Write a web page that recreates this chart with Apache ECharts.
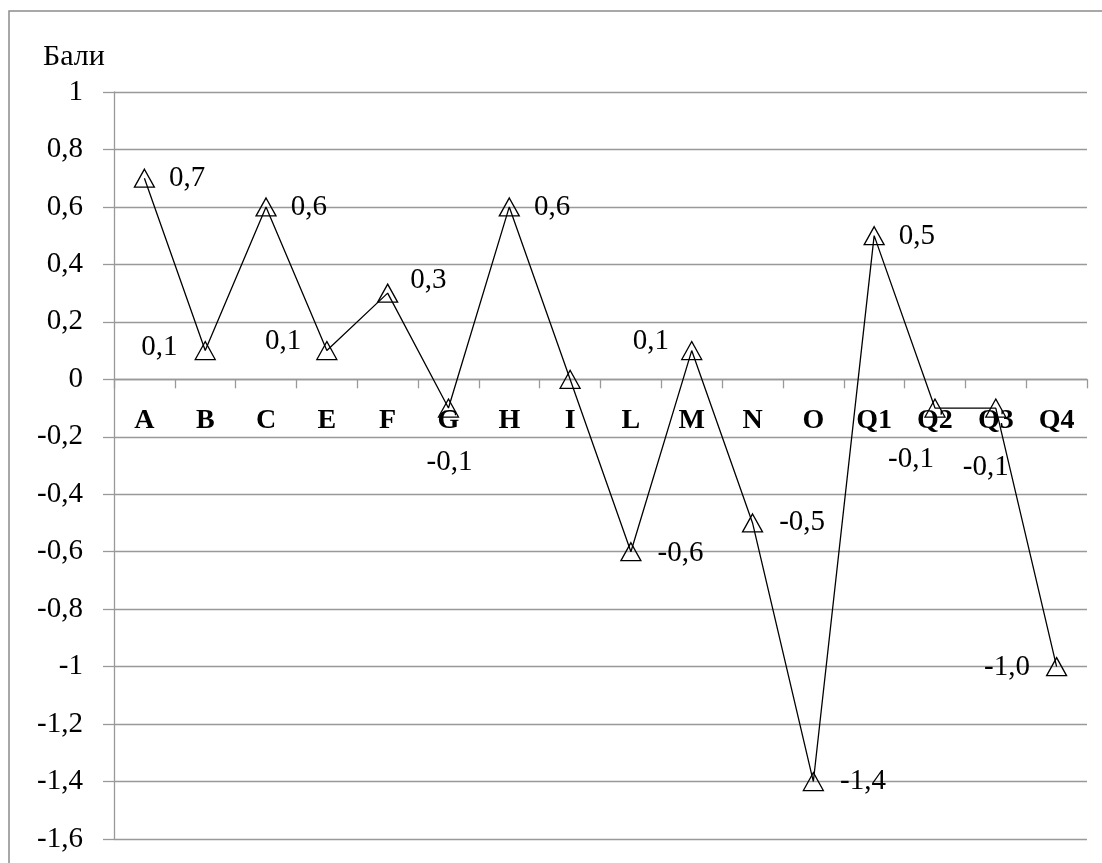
<!DOCTYPE html>
<html>
<head>
<meta charset="utf-8">
<script src="https://cdn.jsdelivr.net/npm/echarts@6/dist/echarts.min.js"></script>
<style>
  html, body { margin: 0; padding: 0; background: #fff; }
  #chart { width: 1102px; height: 863px; }
</style>
</head>
<body>
<div id="chart"></div>
<script>
// дані
const categories = ['A', 'B', 'C', 'E', 'F', 'G', 'H', 'I', 'L', 'M', 'N', 'O', 'Q1', 'Q2', 'Q3', 'Q4'];
const scores = [0.7, 0.1, 0.6, 0.1, 0.3, -0.1, 0.6, 0.0, -0.6, 0.1, -0.5, -1.4, 0.5, -0.1, -0.1, -1.0];
const yTicks = [-1.6, -1.4, -1.2, -1, -0.8, -0.6, -0.4, -0.2, 0, 0.2, 0.4, 0.6, 0.8, 1];
const yName = 'Бали';

// розміщення підписів (position, distance, offset) - null = без підпису
const labelPlace = [
  ['right', 14, [0, 0]],
  ['left', 17, [0, -3]],
  ['right', 14, [0, 0]],
  ['left', 15, [0, -9]],
  ['right', 12, [0, -13]],
  ['bottom', 30, [1, 0]],
  ['right', 14, [0, 0]],
  null,
  ['right', 16, [0, 2]],
  ['left', 12, [0, -9]],
  ['right', 16, [0, -1]],
  ['right', 16, [0, 0]],
  ['right', 14, [0, 1]],
  ['bottom', 27, [-24, 0]],
  ['bottom', 35, [-10, 0]],
  ['left', 16, [0, 1]]
];

const font = 'Liberation Serif, Times New Roman, serif';
const fmt = v => v.toFixed(1).replace('.', ',');

const seriesData = scores.map((v, i) => {
  const p = labelPlace[i];
  if (!p) return { value: v, label: { show: false } };
  return {
    value: v,
    label: { show: true, position: p[0], distance: p[1], offset: p[2] }
  };
});

const chart = echarts.init(document.getElementById('chart'));
chart.setOption({
  animation: false,
  backgroundColor: '#fff',
  title: {
    text: yName,
    left: 38,
    top: 37,
    textStyle: { fontFamily: font, fontSize: 30, fontWeight: 'normal', color: '#000' }
  },
  graphic: [{
    type: 'rect',
    shape: { x: 9, y: 11, width: 1200, height: 1000 },
    style: { fill: 'none', stroke: '#8c8c8c', lineWidth: 1.5 },
    silent: true
  }],
  grid: { left: 114, right: 15, top: 92, bottom: 24, outerBoundsMode: 'none', containLabel: false },
  xAxis: {
    type: 'category',
    data: categories,
    boundaryGap: true,
    position: 'bottom',
    offset: 0,
    axisLine: { onZero: false, lineStyle: { color: '#999', width: 1.3 } },
    axisTick: { show: true, length: 9, lineStyle: { color: '#999', width: 1.3 } },
    axisLabel: {
      interval: 0,
      margin: 27,
      fontFamily: font,
      fontSize: 28,
      fontWeight: 'bold',
      color: '#000'
    },
    splitLine: { show: false }
  },
  yAxis: {
    type: 'value',
    min: yTicks[0],
    max: yTicks[yTicks.length - 1],
    interval: 0.2,
    axisLine: { show: true, lineStyle: { color: '#999', width: 1.3 } },
    axisTick: { show: true, length: 11, lineStyle: { color: '#999', width: 1.3 } },
    axisLabel: {
      margin: 31,
      fontFamily: font,
      fontSize: 29,
      color: '#000',
      formatter: v => {
        const r = Math.round(v * 10) / 10;
        return String(r).replace('.', ',');
      }
    },
    splitLine: { show: true, lineStyle: { color: '#999', width: 1.3 } }
  },
  series: [{
    type: 'line',
    data: seriesData,
    symbol: 'triangle',
    symbolSize: [20, 18],
    lineStyle: { color: '#000', width: 1.3 },
    itemStyle: { color: 'transparent', borderColor: '#000', borderWidth: 1.3 },
    label: {
      fontFamily: font,
      fontSize: 29,
      color: '#000',
      formatter: p => fmt(p.value)
    },
    z: 3
  }]
});

// підняти вісь категорій до нуля (разом з підписами)
const yZero = chart.convertToPixel({ yAxisIndex: 0 }, 0);
const yBottom = chart.convertToPixel({ yAxisIndex: 0 }, yTicks[0]);
chart.setOption({ xAxis: { offset: -(yBottom - yZero) } });
</script>
</body>
</html>
